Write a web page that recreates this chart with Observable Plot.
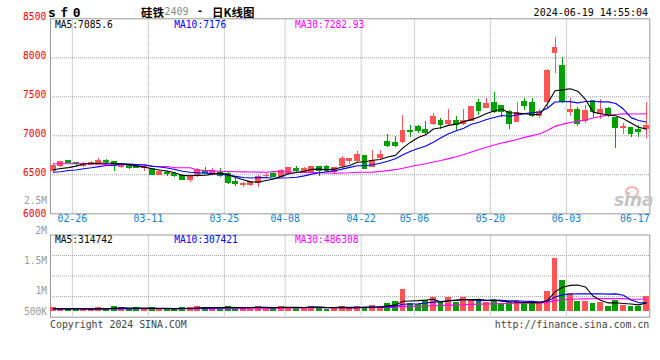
<!DOCTYPE html>
<html><head><meta charset="utf-8">
<script src="https://cdn.jsdelivr.net/npm/d3@7"></script>
<script src="https://cdn.jsdelivr.net/npm/@observablehq/plot@0.6"></script>
<style>
html,body{margin:0;padding:0;background:#fff;}
#wrap{position:relative;width:660px;height:360px;overflow:hidden;font-family:"DejaVu Sans Mono",monospace;}
#wrap svg{position:absolute;left:0;top:0;}
.t{position:absolute;white-space:nowrap;line-height:1;}
</style></head><body><div id="wrap"></div>
<script>
// ---------- data ----------
const dates = ["02-22","02-23","02-26","02-27","02-28","02-29","03-01","03-04","03-05","03-06","03-07","03-08","03-11","03-12","03-13","03-14","03-15","03-18","03-19","03-20","03-21","03-22","03-25","03-26","03-27","03-28","03-29","04-01","04-02","04-03","04-08","04-09","04-10","04-11","04-12","04-15","04-16","04-17","04-18","04-19","04-22","04-23","04-24","04-25","04-26","04-29","04-30","05-06","05-07","05-08","05-09","05-10","05-13","05-14","05-15","05-16","05-17","05-20","05-21","05-22","05-23","05-24","05-27","05-28","05-29","05-30","05-31","06-03","06-04","06-05","06-06","06-07","06-11","06-12","06-13","06-14","06-17","06-18","06-19"];
const open  = [6545,6615,6675,6645,6615,6632,6632,6671,6658,6594,6615,6607,6589,6572,6495,6521,6513,6487,6436,6483,6551,6521,6525,6513,6410,6367,6367,6393,6483,6513,6478,6513,6577,6530,6521,6598,6598,6534,6607,6683,6683,6747,6598,6718,6918,6906,6918,7059,7111,7077,7154,7188,7145,7188,7145,7196,7418,7354,7418,7380,7303,7175,7431,7418,7260,7431,8059,7889,7303,7325,7196,7444,7282,7346,7226,7098,7098,7069,7081];
const high  = [6632,6666,6683,6662,6658,6666,6713,6701,6666,6632,6632,6624,6619,6581,6555,6543,6521,6504,6500,6581,6598,6577,6577,6525,6448,6406,6418,6491,6513,6525,6568,6598,6607,6598,6611,6607,6619,6598,6739,6705,6799,6747,6812,6812,7017,6991,7260,7132,7132,7183,7282,7226,7337,7248,7333,7376,7466,7474,7560,7389,7325,7431,7474,7474,7337,7846,8256,8000,7474,7359,7389,7453,7466,7367,7230,7154,7111,7132,7431];
const low   = [6521,6598,6641,6607,6589,6615,6628,6632,6547,6585,6572,6577,6547,6491,6491,6483,6470,6423,6406,6461,6513,6513,6470,6376,6350,6342,6354,6333,6470,6470,6461,6504,6521,6521,6513,6478,6534,6504,6598,6632,6662,6564,6589,6692,6846,6846,6906,6974,7025,7004,7132,7077,7119,7069,7132,7188,7260,7346,7282,7230,7081,7166,7325,7239,7218,7346,7803,7410,7252,7119,7162,7230,7205,7230,6833,7017,6983,6983,6961];
const close = [6609,6658,6649,6636,6641,6645,6671,6662,6607,6619,6581,6589,6598,6500,6538,6513,6483,6427,6478,6564,6521,6551,6491,6393,6376,6376,6410,6478,6491,6478,6543,6581,6555,6572,6598,6555,6547,6589,6705,6705,6760,6577,6683,6760,6863,6863,7059,7047,7059,7034,7239,7141,7196,7136,7196,7367,7316,7410,7303,7303,7145,7290,7376,7248,7303,7837,8124,7431,7325,7145,7312,7303,7325,7248,7098,7119,7025,7055,7132];
const volume = [123000,53000,22000,22000,35000,53000,123000,22000,167000,97000,22000,110000,22000,110000,53000,22000,22000,110000,110000,167000,110000,53000,110000,167000,110000,53000,110000,154000,110000,53000,154000,110000,132000,110000,167000,110000,22000,123000,154000,53000,154000,110000,198000,154000,286000,374000,902000,273000,229000,405000,550000,317000,550000,343000,550000,462000,462000,343000,374000,299000,330000,374000,299000,317000,273000,814000,2288000,1298000,739000,374000,374000,299000,343000,167000,409000,220000,167000,167000,594000];
// moving-average values before enough history exists
const ma5Early  = [6564,6580,6592,6611];
const ma10Early = [6533,6540,6555,6562,6578,6590,6605,6619,6622];
const ma30Early = [6641,6641,6641,6641,6641,6641,6641,6630,6628,6628,6628,6628,6628,6607,6607,6607,6590,6590,6590,6560,6555,6550,6545,6542,6540,6538,6536,6534,6532];
const volMa5Early  = [55000,50000,50000,52000];
const volMa10Early = [52000,52000,52000,52000,52000,52000,52000,52000,52000];
const volMa30Early = [53000,53000,53000,53000,53000,53000,53000,53000,53000,53000,53000,53000,53000,53000,53000,53000,53000,53000,53000,53000,53000,53000,53000,53000,53000,53000,53000,53000,53000];
const tickDates = ["02-26","03-11","03-25","04-08","04-22","05-06","05-20","06-03","06-17"];
const priceTicks = [8500,8000,7500,7000,6500,6000];
const priceGrid = [6500,7000,7500,8000];
const volTickLabels = ["2.5M","2M","1.5M","1M","500K"];
const maLabels = ["MA5:7085.6","MA10:7176","MA30:7282.93"];
const volMaLabels = ["MA5:314742","MA10:307421","MA30:486308"];

// ---------- derived ----------
const RED = "#ff5555", GREEN = "#00a000";
const candles = dates.map((d,i)=>({i, d, o:open[i], h:high[i], l:low[i], c:close[i], v:volume[i],
  col: close[i] >= open[i] ? RED : GREEN}));
function ma(arr, n, early){ return arr.map((_,i)=>({i, v: i < n-1 ? early[i] : d3.mean(arr.slice(i-n+1,i+1))})); }
const ma5 = ma(close,5,ma5Early), ma10 = ma(close,10,ma10Early), ma30 = ma(close,30,ma30Early);
const vma5 = ma(volume,5,volMa5Early), vma10 = ma(volume,10,volMa10Early), vma30 = ma(volume,30,volMa30Early);
const tickIdx = tickDates.map(t => dates.indexOf(t) + 0.5);
const gridIdx = tickIdx.slice(0, -1);

const xDomain = [-0.37, 78.47];
const GRID = {stroke:"#a0a0a0", strokeDasharray:"1,1", strokeWidth:1};
const baseStyle = {fontFamily:"DejaVu Sans Mono, monospace", fontSize:"10px", background:"transparent", overflow:"visible"};
const lineW = 1.1;

// ---------- price panel ----------
const main = Plot.plot({
  width:660, height:360, marginLeft:50, marginRight:10.7, marginTop:18.3, marginBottom:146.7,
  x:{type:"linear", domain:xDomain, axis:null},
  y:{domain:[6000,8500], axis:null},
  color:{type:"identity"},
  style: baseStyle,
  marks:[
    Plot.ruleY(priceGrid, GRID),
    Plot.ruleX(gridIdx, {x:d=>d, ...GRID}),
    Plot.frame({stroke:"#999", strokeWidth:1}),
    Plot.ruleX(candles, {x:"i", y1:"l", y2:"h", stroke:"col", strokeWidth:1, shapeRendering:"crispEdges"}),
    Plot.rect(candles, {x1:d=>d.i-0.39, x2:d=>d.i+0.39, y1:d=>Math.min(d.o,d.c), y2:d=>Math.max(d.o,d.c),
      fill:"col", insetTop:-0.5, insetBottom:-0.5, shapeRendering:"crispEdges"}),
    Plot.line(ma30, {x:"i", y:"v", stroke:"#ff00ff", strokeWidth:lineW}),
    Plot.line(ma10, {x:"i", y:"v", stroke:"#0000ff", strokeWidth:lineW}),
    Plot.line(ma5,  {x:"i", y:"v", stroke:"#000000", strokeWidth:lineW}),
    Plot.text(priceTicks.filter(d=>d!==6000), {y:d=>d, text:d=>String(d), frameAnchor:"left", textAnchor:"end", dx:-4.3, dy:-1.9, fill:"#f00", fontSize:9.6}),
    Plot.text(priceTicks.filter(d=>d===6000), {y:d=>d, text:d=>String(d), frameAnchor:"left", textAnchor:"end", dx:-4.3, dy:-0.2, fill:"#f00", fontSize:9.6}),
    Plot.text(tickDates, {x:(d,k)=>tickIdx[k], text:d=>d, frameAnchor:"bottom", dy:8.6, fill:"#0b7fd0", fontSize:9.8})
  ]
});

// ---------- volume panel ----------
const vLo = -316800, vHi = 3300000;
const vGrid = [1,2,3].map(k => vHi - k*(vHi-vLo)/4);
const labelAnchors = [vHi, vHi, vGrid[0], vGrid[1], vGrid[2]];
const labelDy = [-33.8, -3.6, 5.6, 15.1, 14.9];
const vol = Plot.plot({
  width:660, height:360, marginLeft:50, marginRight:10.7, marginTop:234.5, marginBottom:43.3,
  x:{type:"linear", domain:xDomain, axis:null},
  y:{domain:[vLo, vHi], axis:null},
  color:{type:"identity"},
  style: baseStyle,
  marks:[
    Plot.ruleY(vGrid, GRID),
    Plot.ruleX(gridIdx, {x:d=>d, ...GRID}),
    Plot.frame({stroke:"#999", strokeWidth:1}),
    Plot.rect(candles, {x1:d=>d.i-0.39, x2:d=>d.i+0.39, y1:0, y2:"v", fill:"col", insetBottom:-1.5, shapeRendering:"crispEdges"}),
    Plot.line(vma30, {x:"i", y:"v", stroke:"#ff00ff", strokeWidth:lineW}),
    Plot.line(vma10, {x:"i", y:"v", stroke:"#0000ff", strokeWidth:lineW}),
    Plot.line(vma5,  {x:"i", y:"v", stroke:"#000000", strokeWidth:lineW}),
    ...volTickLabels.map((t,k) => Plot.text([t], {y:labelAnchors[k], text:d=>d, frameAnchor:"left", textAnchor:"end", dx:-3.4, dy:labelDy[k], fill:"#999", fontSize:9.6}))
  ]
});

const wrap = document.getElementById("wrap");
wrap.appendChild(main);
wrap.appendChild(vol);

function addText(txt, css){ const el=document.createElement("div"); el.className="t"; el.textContent=txt; el.style.cssText += css; wrap.appendChild(el); return el; }
addText("sf0", "left:48px;top:5px;font:bold 13px 'DejaVu Sans Mono';letter-spacing:4.5px;color:#000;");
addText("硅铁", "left:141px;top:4px;font:bold 11.5px 'Noto Sans CJK SC';color:#000;");
addText("2409", "left:164.5px;top:5.5px;font:10px 'DejaVu Sans Mono';color:#888;");
addText("-", "left:197px;top:5px;font:bold 10px 'DejaVu Sans Mono';color:#000;");
addText("日K线图", "left:212px;top:4px;font:bold 11.5px 'Noto Sans CJK SC';color:#000;");
addText("2024-06-19 14:55:04", "right:12px;top:6.5px;font:10px 'DejaVu Sans Mono';color:#000;");
const maColors = ["#000","#0000ff","#ff00ff"], maLefts = [55,174.3,295];
maLabels.forEach((t,k)=>addText(t, `left:${maLefts[k]}px;top:18.8px;font:9.6px 'DejaVu Sans Mono';color:${maColors[k]};`));
volMaLabels.forEach((t,k)=>addText(t, `left:${maLefts[k]}px;top:233.8px;font:9.6px 'DejaVu Sans Mono';color:${maColors[k]};`));
addText("Copyright 2024 SINA.COM", "left:50px;top:318.5px;font:9.9px 'DejaVu Sans Mono';color:#444;");
addText("http://finance.sina.com.cn", "right:10.7px;top:318.5px;font:9.9px 'DejaVu Sans Mono';color:#444;");
// sina watermark
const eye = document.createElement("div");
eye.style.cssText = "position:absolute;left:625px;top:186px;width:10px;height:8px;border:2px solid #f2b4b4;border-radius:50%;";
wrap.appendChild(eye);
addText("sina", "left:614px;top:190px;font:italic bold 17px 'DejaVu Sans';color:#c4c4c4;");
</script>
</body></html>
